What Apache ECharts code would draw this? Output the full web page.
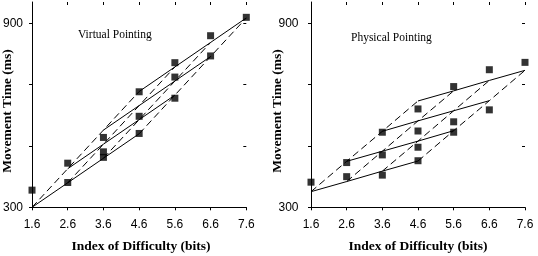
<!DOCTYPE html>
<html><head><meta charset="utf-8">
<script src="https://cdn.jsdelivr.net/npm/echarts@6/dist/echarts.min.js"></script>
<style>html,body{margin:0;padding:0;background:#fff}#c{width:538px;height:256px}</style>
</head><body><div id="c"></div>
<script>
// Tick values
const idTicks = [1.6, 2.6, 3.6, 4.6, 5.6, 6.6, 7.6];
const mtTicks = [300, 500, 700, 900];
const mtLabels = [300, 900];
// Observed movement times (squares)
const virtualX = [1.6, 2.6, 2.6, 3.6, 3.6, 3.6, 4.6, 4.6, 4.6, 5.6, 5.6, 5.6, 6.6, 6.6, 7.6];
const virtualY = [356, 444, 381, 528, 481, 463, 677, 597, 541, 772, 725, 656, 860, 794, 920];
const physicalX = [1.6, 2.6, 2.6, 3.6, 3.6, 3.6, 4.6, 4.6, 4.6, 4.6, 5.6, 5.6, 5.6, 6.6, 6.6, 7.6];
const physicalY = [382, 446, 400, 545, 471, 405, 621, 549, 496, 452, 694, 579, 545, 749, 618, 773];
// Model lattice: rows = width index, columns = amplitude index (ID = 1.6 + row + col)
const virtualModel = [
  [300, 380, 460, 540],
  [426, 506, 586, 666],
  [552, 632, 712, 792],
  [678, 758, 838, 918]
];
const physicalModel = [
  [351, 384, 418, 451],
  [450, 483, 516, 550],
  [548, 582, 615, 648],
  [647, 680, 714, 747]
];

const chart = echarts.init(document.getElementById('c'), null, {renderer: 'canvas'});
const black = '#000';
const serif = "'Liberation Serif', 'Times New Roman', serif";
const sans = "'Liberation Sans', Arial, sans-serif";

function xAxes(gridIndex) {
  return [{
    type: 'value', gridIndex, min: 1.6, max: 7.6,
    axisLine: {show: true, lineStyle: {color: black, width: 1}},
    axisTick: {show: true, customValues: idTicks, length: 3, lineStyle: {color: black}},
    axisLabel: {show: true, customValues: idTicks, formatter: v => Number(v).toFixed(1),
      color: black, fontFamily: sans, fontSize: 12, margin: 11},
    splitLine: {show: false}
  }, {
    type: 'value', gridIndex, min: 1.6, max: 7.6,
    axisLine: {show: false},
    axisTick: {show: true, inside: true, customValues: idTicks, length: 3, lineStyle: {color: black}},
    axisLabel: {show: false},
    splitLine: {show: false}
  }];
}
function yAxes(gridIndex, margin) {
  return [{
    type: 'value', gridIndex, min: 300, max: 970,
    axisLine: {show: true, lineStyle: {color: black, width: 1}},
    axisTick: {show: true, customValues: mtTicks, length: 3, lineStyle: {color: black}},
    axisLabel: {show: true, customValues: mtLabels, color: black, fontFamily: sans, fontSize: 12, margin: margin},
    splitLine: {show: false}
  }, {
    type: 'value', gridIndex, min: 300, max: 970,
    axisLine: {show: false},
    axisTick: {show: true, inside: true, customValues: mtTicks, length: 3, lineStyle: {color: black}},
    axisLabel: {show: false},
    splitLine: {show: false}
  }];
}

function latticeSeries(model, axisIdx) {
  const out = [];
  for (let j = 0; j < 4; j++) {
    out.push({
      type: 'line', xAxisIndex: axisIdx, yAxisIndex: axisIdx, symbol: 'none', silent: true,
      lineStyle: {color: black, width: 1, type: 'solid'},
      data: model[j].map((v, i) => [idTicks[i + j], v]), z: 2
    });
  }
  for (let i = 0; i < 4; i++) {
    out.push({
      type: 'line', xAxisIndex: axisIdx, yAxisIndex: axisIdx, symbol: 'none', silent: true,
      lineStyle: {color: black, width: 1, type: [7, 4]},
      data: [0, 1, 2, 3].map(j => [idTicks[i + j], model[j][i]]), z: 2
    });
  }
  return out;
}
function scatterSeries(xs, ys, axisIdx) {
  return {
    type: 'scatter', xAxisIndex: axisIdx, yAxisIndex: axisIdx, symbol: 'rect', symbolSize: 7,
    itemStyle: {color: black}, data: xs.map((x, k) => [x, ys[k]]), z: 5
  };
}

function txt(text, x, y, font, rotation) {
  return {
    type: 'text', x, y, rotation: rotation || 0,
    style: {text, font, fill: black, align: 'center', verticalAlign: 'middle'}
  };
}

chart.setOption({
  animation: false,
  backgroundColor: '#fff',
  grid: [
    {left: 31, width: 215.3, top: 2, bottom: 48.7},
    {left: 311, width: 214, top: 2, bottom: 48.7}
  ],
  xAxis: [...xAxes(0), ...xAxes(1)],
  yAxis: [...yAxes(0, 9), ...yAxes(1, 12.5)],
  series: [
    ...latticeSeries(virtualModel, 0),
    scatterSeries(virtualX, virtualY, 0),
    ...latticeSeries(physicalModel, 2),
    scatterSeries(physicalX, physicalY, 2)
  ],
  graphic: [
    {type: 'text', x: 78, y: 35, style: {text: 'Virtual Pointing', font: "11.5px " + serif, fill: black, align: 'left', verticalAlign: 'middle'}},
    {type: 'text', x: 351, y: 38, style: {text: 'Physical Pointing', font: "11.5px " + serif, fill: black, align: 'left', verticalAlign: 'middle'}},
    txt('Index of Difficulty (bits)', 141, 247, "bold 13.5px " + serif),
    txt('Index of Difficulty (bits)', 418, 247, "bold 13.5px " + serif),
    txt('Movement Time (ms)', 8, 111, "bold 13.5px " + serif, Math.PI / 2),
    txt('Movement Time (ms)', 277.5, 111, "bold 13.5px " + serif, Math.PI / 2)
  ]
});
</script>
</body></html>
